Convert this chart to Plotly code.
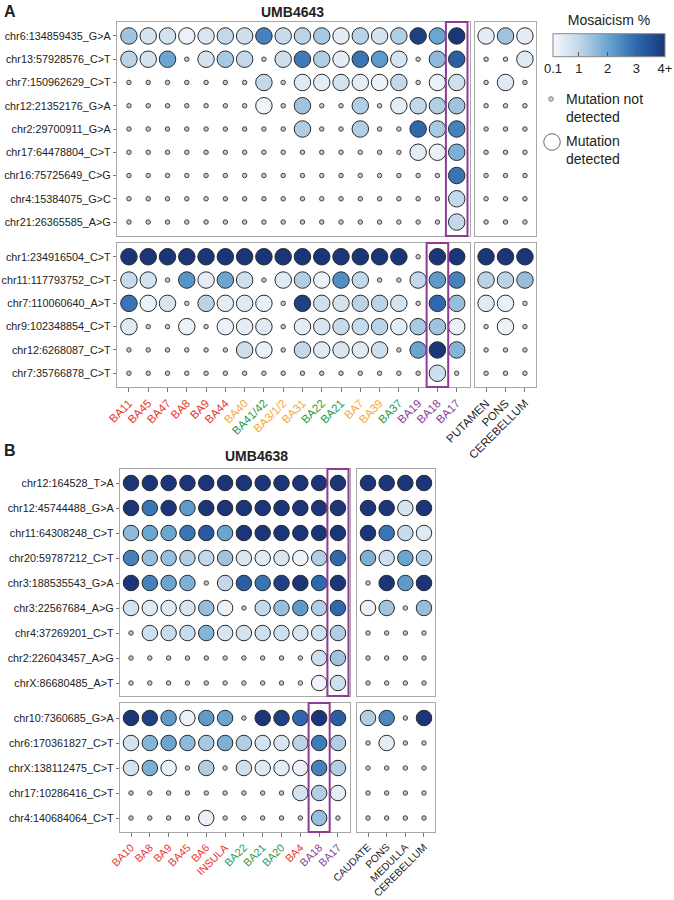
import plotly.graph_objects as go

W, H = 674, 900
FONT = "Liberation Sans, Arial, sans-serif"

RED, ORANGE, GREEN, PURPLE, BLACK = "#e8352e", "#f5a93a", "#1f9a4a", "#8e3a96", "#222222"

# ---------------- panel A: UMB4643 ----------------
A_CORTEX = ["BA11", "BA45", "BA47", "BA8", "BA9", "BA44", "BA40", "BA41/42", "BA3/1/2",
            "BA31", "BA22", "BA21", "BA7", "BA39", "BA37", "BA19", "BA18", "BA17"]
A_CORTEX_COLORS = [RED, RED, RED, RED, RED, RED, ORANGE, GREEN, ORANGE,
                   ORANGE, GREEN, GREEN, ORANGE, ORANGE, GREEN, PURPLE, PURPLE, PURPLE]
A_SUB = ["PUTAMEN", "PONS", "CEREBELLUM"]

A_TOP_ROWS = ["chr6:134859435_G>A", "chr13:57928576_C>T", "chr7:150962629_C>T",
              "chr12:21352176_G>A", "chr2:29700911_G>A", "chr17:64478804_C>T",
              "chr16:75725649_C>G", "chr4:15384075_G>C", "chr21:26365585_A>G"]
A_TOP_CORTEX = [
    [1.4, 0.7, 0.7, 0.3, 0.6, 1.0, 0.8, 2.6, 0.9, 1.1, 1.3, 0.4, 1.1, 0.7, 1.2, 3.8, 2.0, 4.0],
    [1.1, 0.7, 2.0, 0, 0.7, 1.3, 1.0, 0, 0.8, 2.7, 1.2, 0.4, 2.8, 2.2, 0.7, 0, 1.6, 3.2],
    [0, 0, 0, 0, 0, 0, 0, 1.0, 0, 0.5, 0.4, 0.7, 0.4, 0.3, 1.0, 0, 0.3, 0.8],
    [0, 0, 0, 0, 0, 0, 0, 0.2, 0, 1.4, 0, 0, 1.2, 0, 0.4, 1.0, 1.2, 1.4],
    [0, 0, 0, 0, 0, 0, 0, 0, 0, 1.2, 0, 0, 1.2, 0, 0, 3.0, 1.3, 2.6],
    [0, 0, 0, 0, 0, 0, 0, 0, 0, 0, 0, 0, 0, 0, 0, 0.4, 0.3, 1.8],
    [0, 0, 0, 0, 0, 0, 0, 0, 0, 0, 0, 0, 0, 0, 0, 0, 0, 2.8],
    [0, 0, 0, 0, 0, 0, 0, 0, 0, 0, 0, 0, 0, 0, 0, 0, 0, 1.0],
    [0, 0, 0, 0, 0, 0, 0, 0, 0, 0, 0, 0, 0, 0, 0, 0, 0, 1.0],
]
A_TOP_SUB = [[0.4, 1.4, 0.4], [0, 0, 0.5], [0, 0.5, 0], [0, 0, 0], [0, 0, 0],
             [0, 0, 0], [0, 0, 0], [0, 0, 0], [0, 0, 0]]

A_BOT_ROWS = ["chr1:234916504_C>T", "chr11:117793752_C>T", "chr7:110060640_A>T",
              "chr9:102348854_C>T", "chr12:6268087_C>T", "chr7:35766878_C>T"]
A_BOT_CORTEX = [
    [4, 4, 4, 4, 4, 4, 4, 4, 4, 4, 4, 4, 4, 4, 4, 0, 4, 4],
    [0.9, 0.7, 0, 2.3, 0.4, 2.0, 0.8, 0, 0.5, 1.2, 0.3, 2.4, 1.0, 0, 0, 1.0, 2.2, 2.6],
    [2.8, 0.3, 0.6, 0, 1.1, 0.4, 0.5, 0.3, 0, 3.8, 0.8, 0.7, 1.1, 1.1, 0.7, 0, 3.0, 1.5],
    [0.5, 0, 0, 0.3, 0, 0.3, 0.4, 0.5, 0, 0.4, 0.6, 0.9, 0.9, 1.1, 0.4, 1.3, 1.4, 0.3],
    [0, 0, 0, 0, 0, 0, 0.8, 0.3, 0, 1.0, 0.5, 0.6, 0.5, 0.8, 0, 2.0, 4.0, 1.7],
    [0, 0, 0, 0, 0, 0, 0, 0, 0, 0, 0, 0, 0, 0, 0, 0, 0.8, 0],
]
A_BOT_SUB = [[4, 4, 4], [1.1, 1.1, 1.5], [0.5, 0.3, 0], [0, 0.3, 0], [0, 0, 0], [0, 0, 0]]

# ---------------- panel B: UMB4638 ----------------
B_CORTEX = ["BA10", "BA8", "BA9", "BA45", "BA6", "INSULA", "BA22", "BA21", "BA20",
            "BA4", "BA18", "BA17"]
B_CORTEX_COLORS = [RED, RED, RED, RED, RED, RED, GREEN, GREEN, GREEN, RED, PURPLE, PURPLE]
B_SUB = ["CAUDATE", "PONS", "MEDULLA", "CEREBELLUM"]

B_TOP_ROWS = ["chr12:164528_T>A", "chr12:45744488_G>A", "chr11:64308248_C>T",
              "chr20:59787212_C>T", "chr3:188535543_G>A", "chr3:22567684_A>G",
              "chr4:37269201_C>T", "chr2:226043457_A>G", "chrX:86680485_A>T"]
B_TOP_CORTEX = [
    [4, 4, 4, 4, 4, 4, 4, 4, 4, 4, 4, 4],
    [4, 2.8, 4, 2.2, 4, 4, 4, 4, 4, 4, 4, 4],
    [1.6, 2.0, 2.0, 2.8, 3.3, 2.0, 4, 4, 4, 4, 4, 4],
    [2.6, 1.5, 1.5, 1.2, 1.0, 1.4, 0.6, 0.5, 0.6, 0.3, 1.2, 3.0],
    [4, 2.6, 2.0, 1.8, 0, 1.0, 3.2, 2.8, 3.8, 4, 3.0, 4],
    [0.7, 0.5, 0.5, 0.6, 1.5, 0.3, 0, 1.0, 1.5, 2.2, 1.2, 3.0],
    [0, 0.8, 0.9, 0.9, 1.7, 0.6, 0.7, 0.8, 0.8, 0.6, 0.8, 1.2],
    [0, 0, 0, 0, 0, 0, 0, 0, 0, 0, 0.8, 1.4],
    [0, 0, 0, 0, 0, 0, 0, 0, 0, 0, 0.2, 0.8],
]
B_TOP_SUB = [[4, 4, 4, 4], [4, 4, 0.7, 4], [4, 2.8, 0.9, 0.5], [1.8, 0.8, 2.0, 1.2],
             [0, 4, 2.2, 4], [0.3, 1.4, 0, 1.5], [0, 0, 0, 0], [0, 0, 0, 0], [0, 0, 0, 0]]

B_BOT_ROWS = ["chr10:7360685_G>A", "chr6:170361827_C>T", "chrX:138112475_C>T",
              "chr17:10286416_C>T", "chr4:140684064_C>T"]
B_BOT_CORTEX = [
    [4, 3.8, 2.2, 0.3, 2.2, 2.0, 0, 4, 3.8, 3.0, 4, 3.2],
    [0.7, 1.7, 2.0, 1.6, 1.3, 1.8, 1.2, 0.7, 0.6, 1.1, 2.7, 1.2],
    [0.7, 1.8, 0.3, 0, 1.2, 0, 0.8, 0.5, 0.4, 0.3, 2.6, 1.2],
    [0, 0, 0, 0, 0, 0, 0, 0, 0, 0.7, 1.2, 0.4],
    [0, 0, 0, 0, 0.3, 0, 0, 0, 0, 0, 1.5, 0],
]
B_BOT_SUB = [[1.2, 2.5, 0, 4], [0, 0.4, 0, 0], [0, 0, 0, 0], [0, 0, 0, 0], [0, 0, 0, 0]]

COLORSCALE = [[0.0, "#f5f8fc"], [0.23, "#c3d8ea"], [0.49, "#6aa5d0"],
              [0.74, "#2e6aaf"], [1.0, "#1b3678"]]


def px(x):
    return x / W


def py(y):
    return 1 - y / H


fig = go.Figure()
layout = {}
shapes = []


def add_panel(n, xbox, ybox, xrange_, yrange_, cols, rows, vals, size,
              col_colors=None, show_x=False, show_y=False, box_col=None, xfont=11.5):
    xs, ys, cs, xn, yn = [], [], [], [], []
    for i, row in enumerate(vals):
        for j, v in enumerate(row):
            if v > 0:
                xs.append(j); ys.append(i); cs.append(v)
            else:
                xn.append(j); yn.append(i)
    sfx = "" if n == 1 else str(n)
    fig.add_trace(go.Scatter(
        x=xn, y=yn, mode="markers", xaxis="x" + sfx, yaxis="y" + sfx, showlegend=False,
        marker=dict(size=4.5, color="#c8c8c8", line=dict(color="#444", width=1))))
    fig.add_trace(go.Scatter(
        x=xs, y=ys, mode="markers", xaxis="x" + sfx, yaxis="y" + sfx, showlegend=False,
        marker=dict(size=size, color=cs, coloraxis="coloraxis",
                    line=dict(color="#2a2a2a", width=1))))
    ax = dict(domain=[px(xbox[0]), px(xbox[1])], range=xrange_, showgrid=False,
              zeroline=False, showline=True, mirror=True, linecolor="#a8a8a8",
              linewidth=1.3, anchor="y" + sfx, automargin=False)
    ay = dict(domain=[py(ybox[1]), py(ybox[0])], range=yrange_, showgrid=False,
              zeroline=False, showline=True, mirror=True, linecolor="#a8a8a8",
              linewidth=1.3, anchor="x" + sfx, automargin=False)
    if show_x:
        colors = col_colors or [BLACK] * len(cols)
        ax.update(tickmode="array", tickvals=list(range(len(cols))),
                  ticktext=[f'<span style="color:{c}">{t}</span>' for t, c in zip(cols, colors)],
                  ticks="outside", ticklen=4, tickcolor="#777", tickangle=-45,
                  tickfont=dict(size=xfont, family=FONT))
    else:
        ax.update(showticklabels=False, ticks="")
    if show_y:
        ay.update(tickmode="array", tickvals=list(range(len(rows))), ticktext=rows,
                  ticks="outside", ticklen=3, tickcolor="#777",
                  tickfont=dict(size=10.8, family=FONT, color="#222"))
    else:
        ay.update(showticklabels=False, ticks="")
    layout["xaxis" + sfx] = ax
    layout["yaxis" + sfx] = ay
    if box_col is not None:
        shapes.append(dict(type="rect", xref="x" + sfx, yref="y" + sfx + " domain",
                           x0=box_col - 0.56, x1=box_col + 0.56, y0=0, y1=1,
                           line=dict(color=PURPLE, width=2)))


# panel A
add_panel(1, (117, 470), (22, 236), [-0.62, 17.69], [8.6, -0.6],
          A_CORTEX, A_TOP_ROWS, A_TOP_CORTEX, 16.5, show_y=True, box_col=17)
add_panel(2, (475, 536), (22, 236), [-0.57, 2.57], [8.6, -0.6],
          A_SUB, A_TOP_ROWS, A_TOP_SUB, 16.5)
add_panel(3, (117, 470), (243, 387), [-0.62, 17.69], [5.59, -0.59],
          A_CORTEX, A_BOT_ROWS, A_BOT_CORTEX, 16.5, col_colors=A_CORTEX_COLORS,
          show_x=True, show_y=True, box_col=16)
add_panel(4, (475, 536), (243, 387), [-0.57, 2.57], [5.59, -0.59],
          A_SUB, A_BOT_ROWS, A_BOT_SUB, 16.5, show_x=True)

# panel B
add_panel(5, (120, 350), (469, 696), [-0.585, 11.64], [8.52, -0.56],
          B_CORTEX, B_TOP_ROWS, B_TOP_CORTEX, 15.5, show_y=True, box_col=11)
add_panel(6, (357, 435), (469, 696), [-0.59, 3.59], [8.52, -0.56],
          B_SUB, B_TOP_ROWS, B_TOP_SUB, 15.5)
add_panel(7, (120, 350), (703, 832), [-0.585, 11.64], [4.56, -0.6],
          B_CORTEX, B_BOT_ROWS, B_BOT_CORTEX, 15.5, col_colors=B_CORTEX_COLORS,
          show_x=True, show_y=True, box_col=10, xfont=10.8)
add_panel(8, (357, 435), (703, 832), [-0.59, 3.59], [4.56, -0.6],
          B_SUB, B_BOT_ROWS, B_BOT_SUB, 15.5, show_x=True, xfont=10.3)

# legend symbols on a hidden axis (pixel-like coordinates)
fig.add_trace(go.Scatter(
    x=[551, 552], y=[99, 142], mode="markers", xaxis="x9", yaxis="y9", showlegend=False,
    marker=dict(size=[4.5, 16.5], color=["#c8c8c8", "#ffffff"],
                line=dict(color=["#444", "#2a2a2a"], width=1))))
layout["xaxis9"] = dict(domain=[px(540), px(570)], range=[540, 570], visible=False)
layout["yaxis9"] = dict(domain=[py(170), py(80)], range=[170, 80], visible=False,
                        anchor="x9")

annotations = [
    dict(text="<b>A</b>", x=px(2), y=py(12), xref="paper", yref="paper",
         xanchor="left", yanchor="middle", showarrow=False, font=dict(size=16)),
    dict(text="<b>UMB4643</b>", x=px(292), y=py(12), xref="paper", yref="paper",
         xanchor="center", yanchor="middle", showarrow=False, font=dict(size=14)),
    dict(text="<b>B</b>", x=px(2), y=py(450), xref="paper", yref="paper",
         xanchor="left", yanchor="middle", showarrow=False, font=dict(size=16)),
    dict(text="<b>UMB4638</b>", x=px(256), y=py(456), xref="paper", yref="paper",
         xanchor="center", yanchor="middle", showarrow=False, font=dict(size=14)),
    dict(text="Mutation not<br>detected", x=px(564), y=py(108), xref="paper",
         yref="paper", xanchor="left", yanchor="middle", align="left",
         showarrow=False, font=dict(size=14)),
    dict(text="Mutation<br>detected", x=px(564), y=py(150), xref="paper",
         yref="paper", xanchor="left", yanchor="middle", align="left",
         showarrow=False, font=dict(size=14)),
]

fig.update_layout(
    width=W, height=H, margin=dict(l=0, r=0, t=0, b=0, autoexpand=False),
    paper_bgcolor="white", plot_bgcolor="white",
    font=dict(family=FONT, color="#222", size=12),
    coloraxis=dict(
        colorscale=COLORSCALE, cmin=0.1, cmax=4,
        colorbar=dict(
            orientation="h", x=px(609), y=py(50), xanchor="center", yanchor="middle",
            len=132, lenmode="pixels", thickness=23, outlinecolor="#888", outlinewidth=1,
            tickmode="array", tickvals=[0.1, 1, 2, 3, 4],
            ticktext=["0.1", "1", "2", "3", "4+"], ticks="inside", ticklen=5,
            tickcolor="#555", tickfont=dict(size=13),
            title=dict(text="Mosaicism %", side="top", font=dict(size=14)),
        ),
    ),
    shapes=shapes,
    annotations=annotations,
    **layout,
)

# the page body has a default 8px margin; drop it so the figure sits at (0, 0)
fig.write_html("out.html", config={"displayModeBar": False},
               post_script="document.body.style.margin='0';")
